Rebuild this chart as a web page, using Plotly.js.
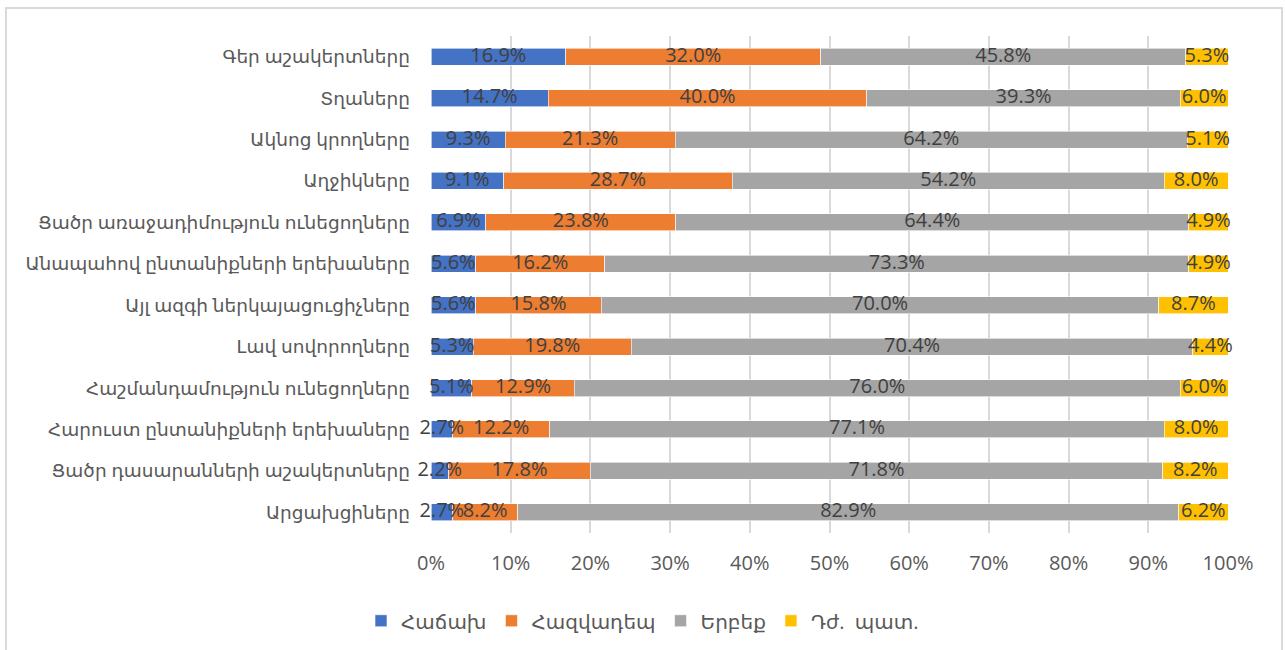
<!DOCTYPE html>
<html>
<head>
<meta charset="utf-8">
<script src="https://cdn.plot.ly/plotly-3.0.1.min.js"></script>
<style>
  html, body { margin: 0; padding: 0; background: #fff; }
  #chart { width: 1285px; height: 650px; }
</style>
</head>
<body>
<div id="chart"></div>
<script>
const categories = [
  "Գեր աշակերտները",
  "Տղաները",
  "Ակնոց կրողները",
  "Աղջիկները",
  "Ցածր առաջադիմություն ունեցողները",
  "Անապահով ընտանիքների երեխաները",
  "Այլ ազգի ներկայացուցիչները",
  "Լավ սովորողները",
  "Հաշմանդամություն ունեցողները",
  "Հարուստ ընտանիքների երեխաները",
  "Ցածր դասարանների աշակերտները",
  "Արցախցիները"
];
const seriesNames = ["Հաճախ", "Հազվադեպ", "Երբեք", "Դժ.  պատ."];
const often  = [16.9, 14.7, 9.3, 9.1, 6.9, 5.6, 5.6, 5.3, 5.1, 2.7, 2.2, 2.7];
const rarely = [32.0, 40.0, 21.3, 28.7, 23.8, 16.2, 15.8, 19.8, 12.9, 12.2, 17.8, 8.2];
const never  = [45.8, 39.3, 64.2, 54.2, 64.4, 73.3, 70.0, 70.4, 76.0, 77.1, 71.8, 82.9];
const hard   = [5.3, 6.0, 5.1, 8.0, 4.9, 4.9, 8.7, 4.4, 6.0, 8.0, 8.2, 6.2];
const tickValues = [0, 10, 20, 30, 40, 50, 60, 70, 80, 90, 100];
const tickLabels = ["0%", "10%", "20%", "30%", "40%", "50%", "60%", "70%", "80%", "90%", "100%"];

const colors = ["#4472C4", "#ED7D31", "#A5A5A5", "#FFC000"];
const allSeries = [often, rarely, never, hard];
const fontFam = "Open Sans, DejaVu Sans, sans-serif";

// bars (100% stacked via barnorm)
const barTraces = allSeries.map((vals, i) => ({
  type: "bar",
  orientation: "h",
  name: seriesNames[i],
  y: categories,
  x: vals,
  textposition: "none",
  marker: { color: colors[i], line: { color: "#ffffff", width: 0.6 } },
  hoverinfo: "name+x"
}));

// data labels on top of all bars, centred in each normalised segment
const totals = categories.map((_, r) => allSeries.reduce((s, arr) => s + arr[r], 0));
const labelTraces = allSeries.map((vals, i) => ({
  type: "scatter",
  mode: "text",
  showlegend: false,
  hoverinfo: "skip",
  cliponaxis: false,
  y: categories,
  x: vals.map((v, r) => {
    let before = 0;
    for (let k = 0; k < i; k++) before += allSeries[k][r];
    return (before + v / 2) / totals[r] * 100;
  }),
  text: vals.map(v => v.toFixed(1) + "%"),
  textposition: "middle center",
  textfont: { family: fontFam, size: 20, color: "#404040" }
}));

const layout = {
  width: 1285,
  height: 650,
  barmode: "stack",
  barnorm: "percent",
  bargap: 0.59,
  paper_bgcolor: "#ffffff",
  plot_bgcolor: "#ffffff",
  margin: { l: 431, r: 57, t: 36, b: 117 },
  font: { family: fontFam, color: "#595959" },
  showlegend: true,
  legend: {
    orientation: "h",
    xref: "container", yref: "container",
    x: 0.5, xanchor: "center",
    y: 0.045, yanchor: "middle",
    font: { family: fontFam, size: 20, color: "#595959" },
    itemwidth: 30,
    traceorder: "normal",
    tracegroupgap: 0
  },
  xaxis: {
    range: [0, 100],
    tickvals: tickValues,
    ticktext: tickLabels,
    showgrid: true,
    gridcolor: "#D9D9D9",
    gridwidth: 2,
    zeroline: false,
    showline: false,
    ticks: "",
    ticklabelstandoff: 16,
    tickfont: { family: fontFam, size: 20, color: "#595959" },
    fixedrange: true
  },
  yaxis: {
    type: "category",
    autorange: false,
    range: [categories.length - 0.5, -0.5],
    showgrid: false,
    zeroline: false,
    showline: false,
    ticks: "",
    ticklabelstandoff: 20,
    tickfont: { family: fontFam, size: 18.5, color: "#595959" },
    fixedrange: true
  },
  shapes: [{
    type: "rect",
    xref: "paper", yref: "paper",
    x0: (6 - 431) / 797, x1: (1282 - 431) / 797,
    y0: (533 - 660) / 497, y1: (533 - 8) / 497,
    line: { color: "#D9D9D9", width: 2 },
    fillcolor: "rgba(0,0,0,0)",
    layer: "below"
  }]
};

Plotly.newPlot("chart", barTraces.concat(labelTraces), layout, { displayModeBar: false, staticPlot: true });
</script>
</body>
</html>
